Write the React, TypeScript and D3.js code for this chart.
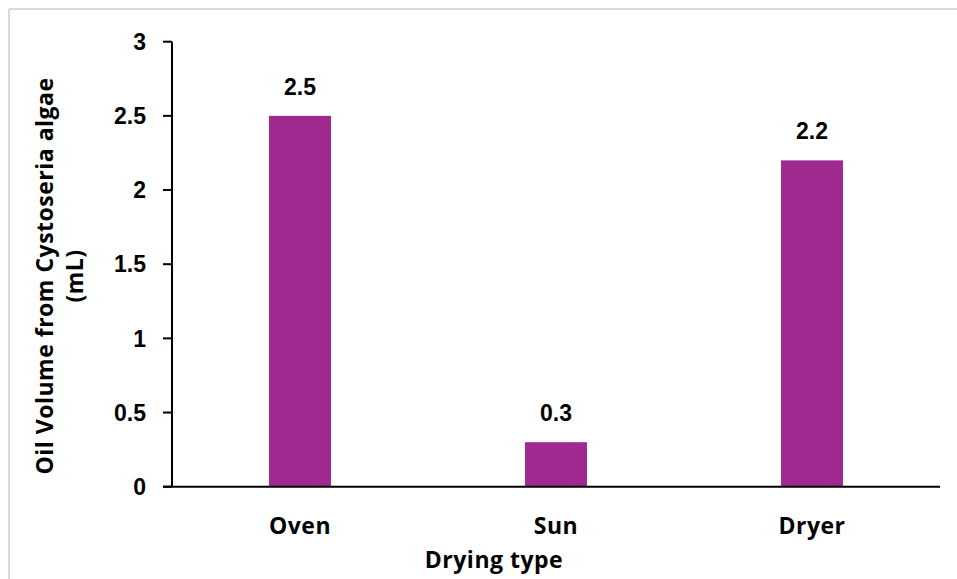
import React from 'react'
import * as d3 from 'd3'

// drying method vs oil volume
const categories = ['Oven', 'Sun', 'Dryer']
const oilVolume = [2.5, 0.3, 2.2]
const yTicks = [0, 0.5, 1, 1.5, 2, 2.5, 3]
const yTitleLines = ['Oil Volume from Cystoseria algae', '(mL)']
const xTitle = 'Drying type'

const W = 957
const H = 579
const left = 172
const right = 940
const top = 41.7
const bottom = 486.7

const barColor = '#A0298F'
const numFont = '"Liberation Sans", Arial, sans-serif'
const labelFont = '"Open Sans", "Noto Sans", sans-serif'

const App = () => {
  const x = d3.scaleBand<string>()
    .domain(categories)
    .range([left, right])
    .paddingInner(0.758)
    .paddingOuter(0.379)

  const y = d3.scaleLinear().domain([0, 3]).range([bottom, top])

  return (
    <svg width={W} height={H} style={{ position: 'absolute', left: 0, top: 0, background: '#fff' }}>
      {/* frame, only top and left edges fall inside the crop */}
      <line x1={9} y1={9} x2={W} y2={9} stroke="#d9d9d9" strokeWidth={2} />
      <line x1={9} y1={9} x2={9} y2={H} stroke="#d9d9d9" strokeWidth={2} />

      {categories.map((c, i) => (
        <rect key={c} x={x(c)} y={y(oilVolume[i])} width={x.bandwidth()}
          height={y(0) - y(oilVolume[i])} fill={barColor} />
      ))}

      {categories.map((c, i) => (
        <text key={'v' + c} x={x(c)! + x.bandwidth() / 2} y={y(oilVolume[i]) - 21}
          textAnchor="middle" fontFamily={numFont} fontWeight="bold" fontSize={23} fill="#000">
          {oilVolume[i]}
        </text>
      ))}

      {/* y axis */}
      <line x1={left} y1={top} x2={left} y2={bottom} stroke="#000" strokeWidth={2} />
      {yTicks.map(t => (
        <g key={t}>
          <line x1={left - 9} x2={left} y1={y(t)} y2={y(t)} stroke="#000" strokeWidth={2} />
          <text x={left - 26} y={y(t)} dy="0.36em" textAnchor="end"
            fontFamily={numFont} fontWeight="bold" fontSize={23} fill="#000">{t}</text>
        </g>
      ))}

      {/* x axis */}
      <line x1={left - 9} y1={bottom} x2={right} y2={bottom} stroke="#000" strokeWidth={2} />
      {categories.map(c => (
        <text key={'c' + c} x={x(c)! + x.bandwidth() / 2} y={bottom + 47}
          textAnchor="middle" fontFamily={labelFont} fontWeight={700} fontSize={23}
          letterSpacing={0.5} fill="#000">{c}</text>
      ))}

      <text x={494} y={568} textAnchor="middle" fontFamily={labelFont} fontWeight={700}
        fontSize={23} letterSpacing={0.5} fill="#000">{xTitle}</text>

      <g transform={`translate(0, 276) rotate(-90)`}>
        {yTitleLines.map((s, i) => (
          <text key={s} x={0} y={53 + i * 30} textAnchor="middle" fontFamily={labelFont}
            fontWeight={700} fontSize={23} letterSpacing={0.5} fill="#000">{s}</text>
        ))}
      </g>
    </svg>
  )
}

export default App
